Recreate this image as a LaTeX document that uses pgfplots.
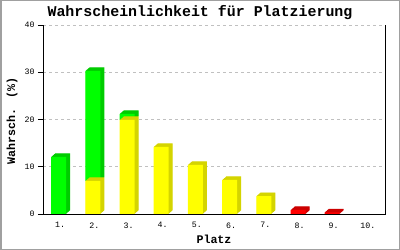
\documentclass[border=0pt]{standalone}
\usepackage{pgfplots}
\pgfplotsset{compat=1.18}
\usepackage{fontspec}
\setmainfont{Liberation Mono}
\definecolor{gF}{RGB}{0,255,0}
\definecolor{gS}{RGB}{0,204,0}
\definecolor{yF}{RGB}{255,255,0}
\definecolor{yS}{RGB}{212,212,0}
\definecolor{rF}{RGB}{255,0,0}
\definecolor{rS}{RGB}{204,0,0}
\definecolor{framec}{RGB}{160,160,160}
\definecolor{gridc}{RGB}{192,192,192}
\tikzset{
  ext/.style={
    preaction={fill=#1, transform canvas={shift={(4bp,3.5bp)}}},
    preaction={fill=#1, transform canvas={shift={(3.5bp,3.06bp)}}},
    preaction={fill=#1, transform canvas={shift={(3bp,2.63bp)}}},
    preaction={fill=#1, transform canvas={shift={(2.5bp,2.19bp)}}},
    preaction={fill=#1, transform canvas={shift={(2bp,1.75bp)}}},
    preaction={fill=#1, transform canvas={shift={(1.5bp,1.31bp)}}},
    preaction={fill=#1, transform canvas={shift={(1bp,0.88bp)}}},
    preaction={fill=#1, transform canvas={shift={(0.5bp,0.44bp)}}},
  }
}
\begin{document}
\begin{tikzpicture}
\path[use as bounding box] (0,0) rectangle (400bp,250bp);
\fill[white] (0,0) rectangle (400bp,250bp);
\draw[framec, line width=1.5bp] (0.75bp,0.75bp) rectangle (399.25bp,249.25bp);
\begin{axis}[
  at={(43bp,36bp)}, anchor=south west,
  scale only axis, width=342bp, height=189bp,
  ybar stacked, bar width=15bp, bar shift=-1.5bp,
  xmin=0.5, xmax=10.5, ymin=0, ymax=40,
  xtick={1,...,10}, xticklabels={1.,2.,3.,4.,5.,6.,7.,8.,9.,10.},
  ytick={0,10,20,30,40},
  axis x line*=bottom, axis y line*=left,
  axis line style={-, black, line width=1bp},
  ytick style={black, line width=1bp}, major tick length=5bp, tick align=outside,
  xtick style={draw=none},
  ymajorgrids, major grid style={gridc, dash pattern=on 3bp off 3bp, line width=1bp},
  xlabel={Platz}, ylabel={Wahrsch. (\%)},
  label style={font=\bfseries\fontsize{11.7}{14}\selectfont},
  xlabel style={at={(axis description cs:0.5,-0.132)}, anchor=center},
  ylabel style={at={(axis description cs:-0.0906,0.492)}, anchor=center},
  ticklabel style={font=\fontsize{8.3}{10}\selectfont},
  /pgf/number format/assume math mode=true,
  after end axis/.code={
    \draw[black, line width=1bp] (rel axis cs:0,0) -- (rel axis cs:1,0) -- (rel axis cs:1,1);
  },
]
\addplot[fill=yF, draw=none, ext=yS]
  coordinates {(1,0) (2,7.0) (3,19.9) (4,14.2) (5,10.4) (6,7.2) (7,3.8) (8,0) (9,0) (10,0)};
\addplot[fill=gF, draw=none, ext=gS]
  coordinates {(1,12.1) (2,23.3) (3,1.3) (4,0) (5,0) (6,0) (7,0) (8,0) (9,0) (10,0)};
\addplot[fill=rF, draw=none, ext=rS]
  coordinates {(1,0) (2,0) (3,0) (4,0) (5,0) (6,0) (7,0) (8,0.85) (9,0.35) (10,0)};
\end{axis}
\node[font=\bfseries\fontsize{15}{18}\selectfont] at (200bp,237bp) {Wahrscheinlichkeit für Platzierung};
\end{tikzpicture}
\end{document}
